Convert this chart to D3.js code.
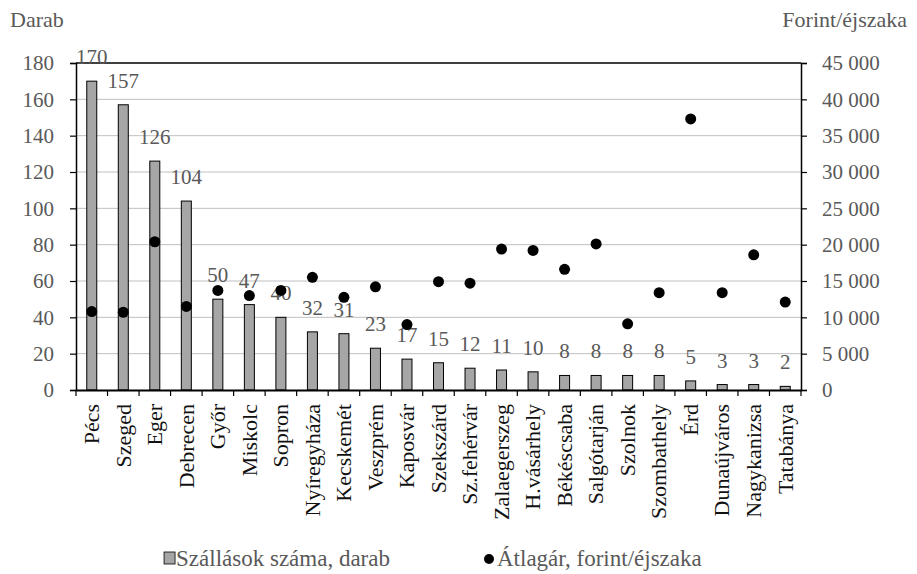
<!DOCTYPE html>
<html>
<head>
<meta charset="utf-8">
<script src="https://cdn.jsdelivr.net/npm/d3@7"></script>
</head>
<body style="margin:0">
<div id="chart"></div>
<script>
// values
const cities = ["Pécs", "Szeged", "Eger", "Debrecen", "Győr", "Miskolc", "Sopron", "Nyíregyháza",
    "Kecskemét", "Veszprém", "Kaposvár", "Szekszárd", "Sz.fehérvár", "Zalaegerszeg", "H.vásárhely",
    "Békéscsaba", "Salgótarján", "Szolnok", "Szombathely", "Érd", "Dunaújváros", "Nagykanizsa", "Tatabánya"];
const counts = [170, 157, 126, 104, 50, 47, 40, 32, 31, 23, 17, 15, 12, 11, 10, 8, 8, 8, 8, 5, 3, 3, 2];
const prices = [10800, 10700, 20400, 11500, 13700, 13000, 13700, 15500, 12750, 14200, 9000, 14900,
    14700, 19400, 19200, 16600, 20100, 9100, 13400, 37300, 13400, 18600, 12100];
const leftTicks = [0, 20, 40, 60, 80, 100, 120, 140, 160, 180];
const rightTicks = [0, 5000, 10000, 15000, 20000, 25000, 30000, 35000, 40000, 45000];

const width = 917, height = 574;
const margin = { top: 63, right: 116, bottom: 184, left: 76 };
const iw = width - margin.left - margin.right;
const ih = height - margin.top - margin.bottom;

const svg = d3.select("#chart").append("svg")
    .attr("width", width)
    .attr("height", height);

const g = svg.append("g").attr("transform", `translate(${margin.left},${margin.top})`);

const x = d3.scaleBand().domain(cities).range([0, iw]);
const yL = d3.scaleLinear().domain([0, 180]).range([ih, 0]);
const yR = d3.scaleLinear().domain([0, 45000]).range([ih, 0]);

const grey = "#595959";

// gridlines
g.selectAll(".grid").data(leftTicks.slice(1, -1)).enter().append("line")
    .attr("x1", 0).attr("x2", iw)
    .attr("y1", d => yL(d)).attr("y2", d => yL(d))
    .attr("stroke", "#c0c0c0").attr("stroke-width", 1);

// top frame line
g.append("line").attr("x1", 0).attr("x2", iw).attr("y1", 0).attr("y2", 0)
    .attr("stroke", "#000").attr("stroke-width", 1.5);

// bars
const barW = 10;
g.selectAll(".bar").data(counts).enter().append("rect")
    .attr("x", (d, i) => x(cities[i]) + x.bandwidth() / 2 - barW / 2)
    .attr("y", d => yL(d))
    .attr("width", barW)
    .attr("height", d => ih - yL(d))
    .attr("fill", "#a6a6a6")
    .attr("stroke", "#000")
    .attr("stroke-width", 1);

// bar labels
g.selectAll(".lbl").data(counts).enter().append("text")
    .attr("x", (d, i) => x(cities[i]) + x.bandwidth() / 2)
    .attr("y", d => yL(d) - 17)
    .attr("text-anchor", "middle")
    .attr("fill", grey)
    .attr("font-size", 21)
    .text(d => d);

// dots
g.selectAll(".dot").data(prices).enter().append("circle")
    .attr("cx", (d, i) => x(cities[i]) + x.bandwidth() / 2)
    .attr("cy", d => yR(d))
    .attr("r", 5.5)
    .attr("fill", "#000");

// left axis
const axL = g.append("g")
    .call(d3.axisLeft(yL).tickValues(leftTicks).tickSize(6).tickPadding(16));
// right axis
const axR = g.append("g").attr("transform", `translate(${iw},0)`)
    .call(d3.axisRight(yR).tickValues(rightTicks).tickSize(6).tickPadding(15)
        .tickFormat(d => d3.format(",")(d).replace(",", " ")));
// x axis
const axX = g.append("g").attr("transform", `translate(0,${ih})`)
    .call(d3.axisBottom(x).tickSize(0).tickPadding(10));

[axL, axR].forEach(a => {
    a.select(".domain").attr("stroke", "#000").attr("stroke-width", 1.5);
    a.selectAll(".tick line").attr("stroke", "#000").attr("stroke-width", 1.2);
    a.selectAll("text").attr("fill", grey).attr("font-size", 21);
});

axX.select(".domain").attr("stroke", "#000").attr("stroke-width", 2);
axX.selectAll("text")
    .attr("transform", "rotate(-90)")
    .attr("text-anchor", "end")
    .attr("dy", "0.33em")
    .attr("x", -14)
    .attr("y", 0)
    .attr("fill", "#111")
    .attr("font-size", 22);

// ticks between categories
const bounds = d3.range(cities.length + 1).map(i => i * x.step());
axX.selectAll(".sep").data(bounds).enter().append("line")
    .attr("x1", d => d).attr("x2", d => d)
    .attr("y1", 0).attr("y2", 6)
    .attr("stroke", "#000").attr("stroke-width", 1.2);

// axis titles
svg.append("text").attr("x", 10).attr("y", 27)
    .attr("fill", grey).attr("font-size", 22).text("Darab");
svg.append("text").attr("x", 907).attr("y", 27).attr("text-anchor", "end")
    .attr("fill", grey).attr("font-size", 22).text("Forint/éjszaka");

// legend
const leg = svg.append("g").attr("transform", "translate(0,566)");
leg.append("text").attr("x", 390).attr("y", 0).attr("fill", grey).attr("text-anchor", "end")
    .attr("font-size", 23).text("Szállások száma, darab");
leg.append("circle").attr("cx", 489).attr("cy", -7).attr("r", 5).attr("fill", "#000");
leg.append("text").attr("x", 497).attr("y", 0).attr("fill", grey)
    .attr("font-size", 23).text("Átlagár, forint/éjszaka");

// serif face on every text, as inline style
svg.selectAll("g").attr("font-family", null);
svg.selectAll("text").style("font-family", "'Liberation Serif'");

const legText = leg.select("text").node().getBBox();
leg.append("rect").attr("x", legText.x - 12).attr("y", -14).attr("width", 11).attr("height", 12)
    .attr("fill", "#a6a6a6").attr("stroke", "#000").attr("stroke-width", 0.8);
</script>
</body>
</html>
